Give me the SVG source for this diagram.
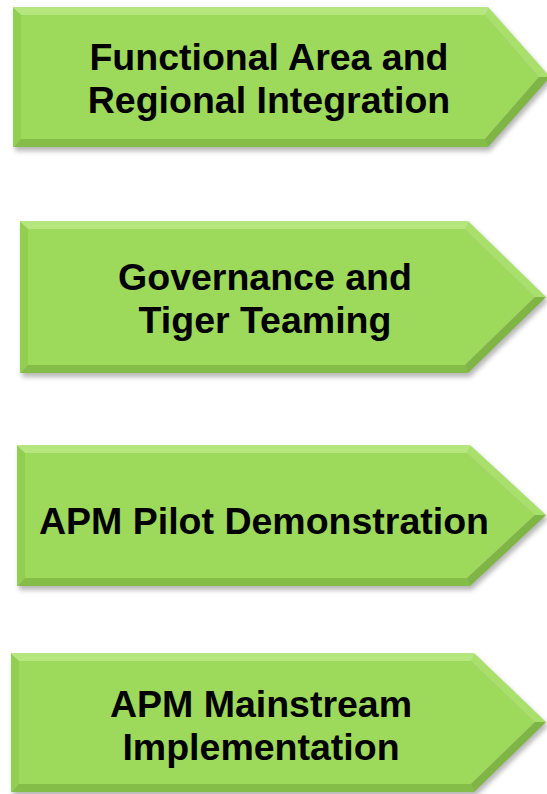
<svg xmlns="http://www.w3.org/2000/svg" width="547" height="794" viewBox="0 0 547 794">
<defs>
<filter id="sh" x="-10%" y="-20%" width="120%" height="140%"><feGaussianBlur stdDeviation="2.5"/></filter>
</defs>
<style>
.shadow{fill:#7a7a7a;opacity:0.55;filter:url(#sh)}
.c{fill:#9dd95b}
.t{fill:#b6e77f}
.l{fill:#92cf50}
.b{fill:#84bd47}
.td{fill:#a9e06b}
.bd{fill:#7fb544}
.lbl{font-family:"Liberation Sans",Arial,sans-serif;font-weight:bold;font-size:37.5px;fill:#000;text-anchor:middle}
</style>
<rect width="547" height="794" fill="#ffffff"/>
<g id="connectors"></g>
<g id="node1">
<polygon class="shadow" points="15,11 490,11 552,81 490,151 15,151"/>
<polygon class="c" points="21,15 485,15 539,77 485,139 21,139"/>
<polygon class="t" points="13,7 488,7 485,15 21,15"/>
<polygon class="l" points="13,7 21,15 21,139 13,147"/>
<polygon class="b" points="13,147 21,139 485,139 488,147"/>
<polygon class="td" points="488,7 550,77 539,77 485,15"/>
<polygon class="bd" points="550,77 488,147 485,139 539,77"/>
<text class="lbl" x="269" y="70">Functional Area and</text>
<text class="lbl" x="269" y="113">Regional Integration</text>
</g>
<g id="node2">
<polygon class="shadow" points="22,225 470,225 548,301 470,377 22,377"/>
<polygon class="c" points="28,229 465,229 535,297 465,365 28,365"/>
<polygon class="t" points="20,221 468,221 465,229 28,229"/>
<polygon class="l" points="20,221 28,229 28,365 20,373"/>
<polygon class="b" points="20,373 28,365 465,365 468,373"/>
<polygon class="td" points="468,221 546,297 535,297 465,229"/>
<polygon class="bd" points="546,297 468,373 465,365 535,297"/>
<text class="lbl" x="265" y="290">Governance and</text>
<text class="lbl" x="265" y="333">Tiger Teaming</text>
</g>
<g id="node3">
<polygon class="shadow" points="19,449 472,449 548,519 472,590 19,590"/>
<polygon class="c" points="25,453 467,453 535,515 467,578 25,578"/>
<polygon class="t" points="17,445 470,445 467,453 25,453"/>
<polygon class="l" points="17,445 25,453 25,578 17,586"/>
<polygon class="b" points="17,586 25,578 467,578 470,586"/>
<polygon class="td" points="470,445 546,515 535,515 467,453"/>
<polygon class="bd" points="546,515 470,586 467,578 535,515"/>
<text class="lbl" x="264" y="534">APM Pilot Demonstration</text>
</g>
<g id="node4">
<polygon class="shadow" points="13,657 476,657 548,726 476,796 13,796"/>
<polygon class="c" points="19,661 471,661 535,722 471,784 19,784"/>
<polygon class="t" points="11,653 474,653 471,661 19,661"/>
<polygon class="l" points="11,653 19,661 19,784 11,792"/>
<polygon class="b" points="11,792 19,784 471,784 474,792"/>
<polygon class="td" points="474,653 546,722 535,722 471,661"/>
<polygon class="bd" points="546,722 474,792 471,784 535,722"/>
<text class="lbl" x="261" y="717">APM Mainstream</text>
<text class="lbl" x="261" y="760">Implementation</text>
</g>
</svg>
